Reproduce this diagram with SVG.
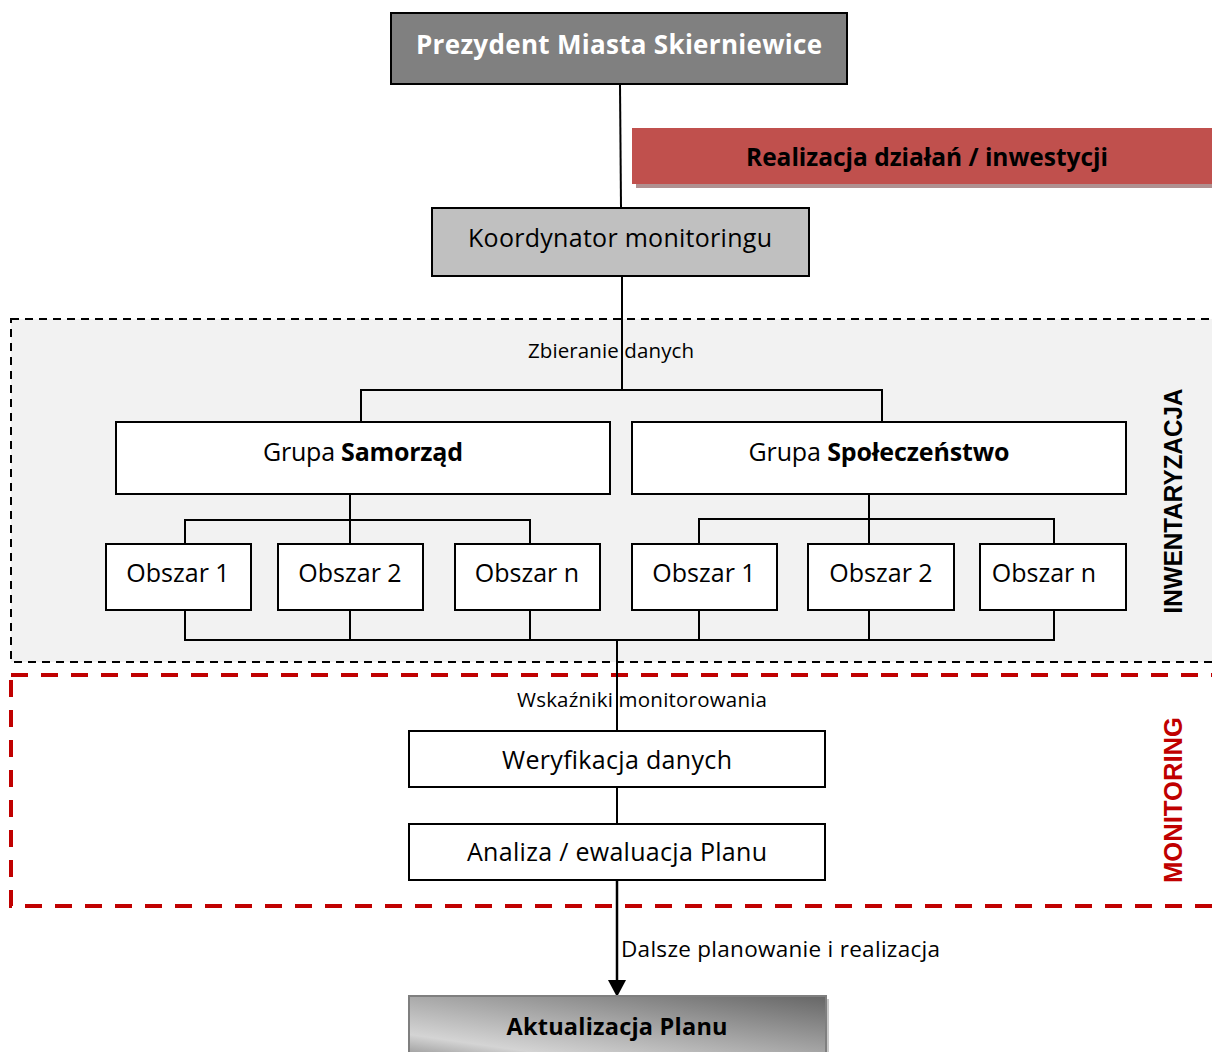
<svg xmlns="http://www.w3.org/2000/svg" width="1212" height="1052" viewBox="0 0 1212 1052">
<style>
.box{fill:#ffffff;stroke:#000;stroke-width:2}
.ln{fill:none;stroke:#000;stroke-width:2}
.t{font-family:"Open Sans","Liberation Sans",sans-serif;font-size:25px;fill:#000;text-anchor:middle}
.s{font-family:"Open Sans","Liberation Sans",sans-serif;font-size:20.5px;fill:#000}
.b{font-family:"Open Sans","Liberation Sans",sans-serif;font-weight:bold;text-anchor:middle}
.side{font-family:"Liberation Sans",Arial,sans-serif;font-weight:bold;font-size:26px;text-anchor:middle}
</style>
<defs>
<linearGradient id="gAkt" x1="0" y1="1" x2="1" y2="0">
<stop offset="0" stop-color="#9a9a9a"/>
<stop offset="0.18" stop-color="#d4d4d4"/>
<stop offset="1" stop-color="#666666"/>
</linearGradient>
</defs>

<g id="zone-inwentaryzacja">
<rect x="11" y="319" width="1220" height="343" fill="#f2f2f2" stroke="#000" stroke-width="2" stroke-dasharray="8 6"/>
<text class="side" transform="translate(1182,501) rotate(-90)" textLength="225" lengthAdjust="spacingAndGlyphs" fill="#000">INWENTARYZACJA</text>
</g>
<g id="zone-monitoring">
<rect x="11" y="675" width="1220" height="231" fill="none" stroke="#c00000" stroke-width="4" stroke-dasharray="17 13"/>
<text class="side" transform="translate(1182,800) rotate(-90)" textLength="166" lengthAdjust="spacingAndGlyphs" fill="#c00000">MONITORING</text>
</g>

<g id="connectors">
<line class="ln" x1="620" y1="84" x2="621" y2="208"/>
<path class="ln" d="M622,276 V390 M361,422 V390 H882 V422"/>
<path class="ln" d="M350,494 V544 M185,544 V520 H530 V544"/>
<path class="ln" d="M869,494 V544 M699,544 V519 H1054 V544"/>
<path class="ln" d="M185,610 V640 H1054 V610 M350,610 V640 M530,610 V640 M699,610 V640 M869,610 V640"/>
<path class="ln" d="M617,640 V731 M617,787 V824"/>
<line x1="617" y1="880" x2="617" y2="982" stroke="#000" stroke-width="2.5"/>
<path d="M608,980 L626,980 L617,997 z" fill="#000"/>
<text class="s" x="611" y="358" text-anchor="middle" textLength="166">Zbieranie danych</text>
<text class="s" x="642" y="707" text-anchor="middle" textLength="250">Wskaźniki monitorowania</text>
<text class="s" x="621" y="957" style="font-size:22.5px" textLength="319">Dalsze planowanie i realizacja</text>
</g>

<g id="prezydent">
<rect x="391" y="13" width="456" height="71" fill="#808080" stroke="#000" stroke-width="2"/>
<text class="b" x="619" y="54" font-size="26" fill="#fff" textLength="406">Prezydent Miasta Skierniewice</text>
</g>

<g id="realizacja">
<rect x="636" y="132" width="580" height="56" fill="#b09090"/>
<rect x="632" y="128" width="584" height="56" fill="#c0504d"/>
<text class="b" x="927" y="166" font-size="24.5" fill="#000" textLength="362">Realizacja działań / inwestycji</text>
</g>

<g id="koordynator">
<rect x="432" y="208" width="377" height="68" fill="#c0c0c0" stroke="#000" stroke-width="2"/>
<text class="t" x="620" y="247" textLength="304">Koordynator monitoringu</text>
</g>

<g id="grupa-samorzad">
<rect class="box" x="116" y="422" width="494" height="72"/>
<text class="t" x="363" y="461" textLength="200">Grupa <tspan font-weight="bold">Samorząd</tspan></text>
</g>
<g id="grupa-spoleczenstwo">
<rect class="box" x="632" y="422" width="494" height="72"/>
<text class="t" x="879" y="461" textLength="261">Grupa <tspan font-weight="bold">Społeczeństwo</tspan></text>
</g>

<g id="s-obszar-1"><rect class="box" x="106" y="544" width="145" height="66"/><text class="t" x="178" y="582">Obszar 1</text></g>
<g id="s-obszar-2"><rect class="box" x="278" y="544" width="145" height="66"/><text class="t" x="350" y="582">Obszar 2</text></g>
<g id="s-obszar-n"><rect class="box" x="455" y="544" width="145" height="66"/><text class="t" x="527" y="582">Obszar n</text></g>
<g id="p-obszar-1"><rect class="box" x="632" y="544" width="145" height="66"/><text class="t" x="704" y="582">Obszar 1</text></g>
<g id="p-obszar-2"><rect class="box" x="808" y="544" width="146" height="66"/><text class="t" x="881" y="582">Obszar 2</text></g>
<g id="p-obszar-n"><rect class="box" x="980" y="544" width="146" height="66"/><text class="t" x="1044" y="582">Obszar n</text></g>

<g id="weryfikacja">
<rect class="box" x="409" y="731" width="416" height="56"/>
<text class="t" x="617" y="769" textLength="230">Weryfikacja danych</text>
</g>
<g id="analiza">
<rect class="box" x="409" y="824" width="416" height="56"/>
<text class="t" x="617" y="861" textLength="300">Analiza / ewaluacja Planu</text>
</g>

<g id="aktualizacja">
<rect x="412" y="999" width="417" height="60" fill="#c8c8c8"/>
<rect x="409" y="996" width="417" height="60" fill="url(#gAkt)" stroke="#7f7f7f" stroke-width="2"/>
<text class="b" x="617" y="1035" font-size="23.5" fill="#000" textLength="221">Aktualizacja Planu</text>
</g>
</svg>
